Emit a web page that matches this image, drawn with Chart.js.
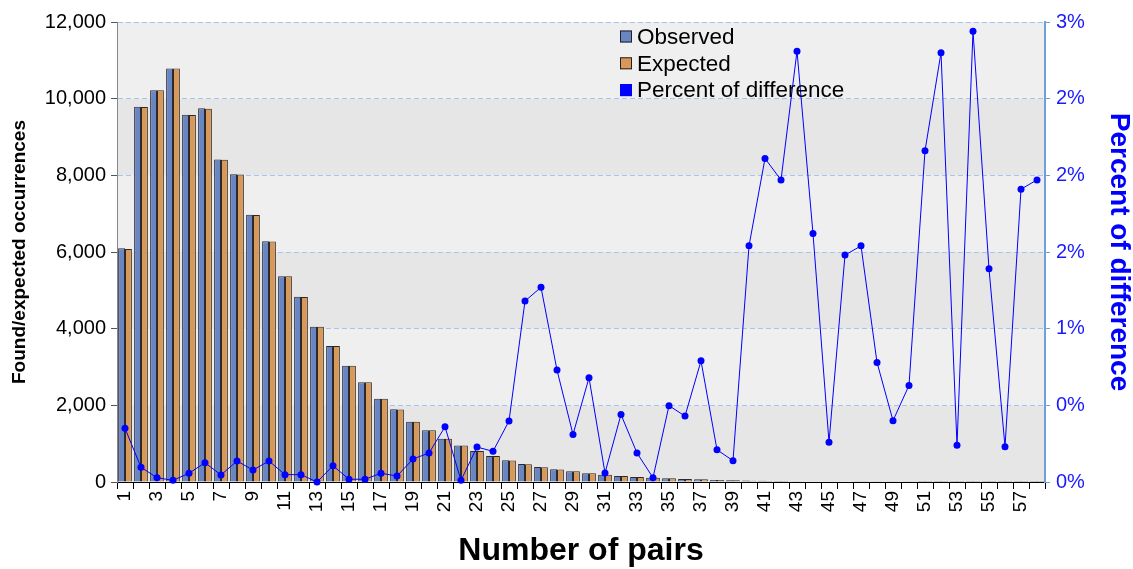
<!DOCTYPE html>
<html>
<head>
<meta charset="utf-8">
<script src="https://cdn.jsdelivr.net/npm/chart.js@4.4.1/dist/chart.umd.min.js"></script>
<style>
  html, body { margin: 0; padding: 0; background: #fff; }
  #wrap { width: 1133px; height: 569px; }
</style>
</head>
<body>
<div id="wrap"><canvas id="chart" width="1133" height="569"></canvas></div>
<script>
const pairs = ["1","2","3","4","5","6","7","8","9","10","11","12","13","14","15","16","17","18","19","20",
  "21","22","23","24","25","26","27","28","29","30","31","32","33","34","35","36","37","38","39","40",
  "41","42","43","44","45","46","47","48","49","50","51","52","53","54","55","56","57","58"];

const observed = [6100, 9790, 10220, 10790, 9580, 9750, 8410, 8030, 6970, 6280, 5370, 4830, 4050, 3550, 3030, 2600,
  2175, 1895, 1575, 1350, 1130, 955, 810, 680, 565, 470, 390, 330, 280, 228, 190, 157, 130, 113, 96, 80, 70, 52,
  44, 36, 30, 25, 20, 16, 13, 10, 8, 6, 5, 4, 3, 3, 2, 2, 1, 1, 1, 1];

const expected = [6080, 9780, 10217, 10789, 9575, 9738, 8406, 8019, 6965, 6272, 5367, 4828, 4050, 3546, 3030, 2600,
  2174, 1894, 1573, 1347, 1126, 955, 808, 679, 563, 464, 385, 328, 279, 226, 190, 156, 130, 113, 96, 80, 69, 52,
  44, 35, 29, 25, 20, 16, 13, 10, 8, 6, 5, 4, 3, 3, 2, 2, 1, 1, 1, 1];

// percent of difference (in %)
const pctDiff = [0.35, 0.096, 0.028, 0.011, 0.057, 0.126, 0.046, 0.137, 0.078, 0.137, 0.048, 0.048, 0.0, 0.106,
  0.018, 0.018, 0.057, 0.039, 0.15, 0.189, 0.36, 0.011, 0.228, 0.2, 0.398, 1.18, 1.27, 0.73, 0.31, 0.68, 0.059,
  0.44, 0.189, 0.028, 0.498, 0.43, 0.79, 0.21, 0.139, 1.54, 2.11, 1.97, 2.81, 1.62, 0.26, 1.48, 1.54, 0.78, 0.40,
  0.63, 2.16, 2.80, 0.24, 2.94, 1.39, 0.23, 1.91, 1.97];

// right axis labels as printed (rounded)
const pctTickLabels = ["0%", "0%", "1%", "2%", "2%", "2%", "3%"];

const BLUE_BAR = "#6a86c2";
const ORANGE_BAR = "#d8985a";
const LINE_BLUE = "#0000ff";

Chart.defaults.font.family = "'Liberation Sans', Arial, sans-serif";
Chart.defaults.color = "#000";

const bandsPlugin = {
  id: "bands",
  beforeDraw(chart) {
    const { ctx, chartArea, scales } = chart;
    const y = scales.y;
    ctx.save();
    for (let v = 0; v < 12000; v += 2000) {
      const top = y.getPixelForValue(v + 2000);
      const bot = y.getPixelForValue(v);
      ctx.fillStyle = (v / 2000) % 2 === 0 ? "#e6e6e6" : "#efefef";
      ctx.fillRect(chartArea.left, top, chartArea.right - chartArea.left, bot - top);
    }
    ctx.restore();
  }
};

const legendPlugin = {
  id: "boxLegend",
  afterDraw(chart) {
    const ctx = chart.ctx;
    const items = [
      { text: "Observed", fill: BLUE_BAR, stroke: "#222" },
      { text: "Expected", fill: ORANGE_BAR, stroke: "#222" },
      { text: "Percent of difference", fill: LINE_BLUE, stroke: LINE_BLUE }
    ];
    ctx.save();
    ctx.font = "22.5px 'Liberation Sans', Arial, sans-serif";
    ctx.textBaseline = "middle";
    items.forEach(function (it, i) {
      const cy = 36.5 + i * 26.8;
      ctx.fillStyle = it.fill;
      ctx.fillRect(620, cy - 6, 12, 12);
      ctx.strokeStyle = it.stroke;
      ctx.lineWidth = 1;
      ctx.strokeRect(620.5, cy - 5.5, 11, 11);
      ctx.fillStyle = "#000";
      ctx.fillText(it.text, 637, cy + 1);
    });
    ctx.restore();
  }
};

new Chart(document.getElementById("chart").getContext("2d"), {
  data: {
    labels: pairs,
    datasets: [
      {
        type: "line",
        label: "Percent of difference",
        data: pctDiff,
        yAxisID: "y2",
        borderColor: LINE_BLUE,
        backgroundColor: LINE_BLUE,
        borderWidth: 1,
        pointRadius: 3.5,
        pointBorderWidth: 0,
        tension: 0,
        clip: false,
        order: 0
      },
      {
        type: "bar",
        label: "Observed",
        data: observed,
        yAxisID: "y",
        backgroundColor: BLUE_BAR,
        borderColor: "#2a2a2a",
        borderWidth: 1,
        categoryPercentage: 0.86,
        barPercentage: 1.0,
        order: 1
      },
      {
        type: "bar",
        label: "Expected",
        data: expected,
        yAxisID: "y",
        backgroundColor: ORANGE_BAR,
        borderColor: "#2a2a2a",
        borderWidth: 1,
        categoryPercentage: 0.86,
        barPercentage: 1.0,
        order: 1
      }
    ]
  },
  options: {
    responsive: false,
    animation: false,
    layout: { padding: { top: 22, left: 0, right: 0, bottom: 0 } },
    plugins: {
      legend: { display: false },
      tooltip: { enabled: false }
    },
    scales: {
      x: {
        offset: true,
        grid: { drawOnChartArea: false, tickLength: 7, color: "#000" },
        border: { color: "#000" },
        ticks: {
          autoSkip: false,
          minRotation: 90,
          maxRotation: 90,
          padding: 2,
          font: { size: 19 },
          color: "#000",
          callback: function (val, idx) { return idx % 2 === 0 ? pairs[idx] : ""; }
        },
        title: {
          display: true,
          text: "Number of pairs",
          font: { size: 32, weight: "bold" },
          color: "#000",
          padding: { top: 0, bottom: -1 }
        },
        afterFit: function (scale) { scale.height = 87; }
      },
      y: {
        position: "left",
        min: 0,
        max: 12000,
        ticks: {
          stepSize: 2000,
          font: { size: 20 },
          color: "#000",
          padding: 5,
          callback: function (v) { return v.toLocaleString("en-US"); }
        },
        grid: {
          color: "#a4c6ee",
          tickColor: "#555",
          tickLength: 6,
          lineWidth: 1
        },
        border: { color: "#888", dash: [5, 3] },
        title: {
          display: true,
          text: "Found/expected occurrences",
          font: { size: 19, weight: "bold" },
          color: "#000",
          padding: { top: 8, bottom: 0 }
        },
        afterFit: function (scale) { scale.width = 117; }
      },
      y2: {
        position: "right",
        min: 0,
        max: 3,
        ticks: {
          stepSize: 0.5,
          font: { size: 20 },
          color: "#1a1aff",
          padding: 6,
          callback: function (v, idx) { return pctTickLabels[idx]; }
        },
        grid: { drawOnChartArea: false, tickLength: 5, color: "#6fa0da" },
        border: { color: "#6fa0da", width: 2 },
        title: {
          display: true,
          text: "Percent of difference",
          font: { size: 28, weight: "bold" },
          color: "#0000ff",
          padding: { top: -3, bottom: 0 }
        },
        afterFit: function (scale) { scale.width = 88; }
      }
    }
  },
  plugins: [bandsPlugin, legendPlugin]
});
</script>
</body>
</html>
